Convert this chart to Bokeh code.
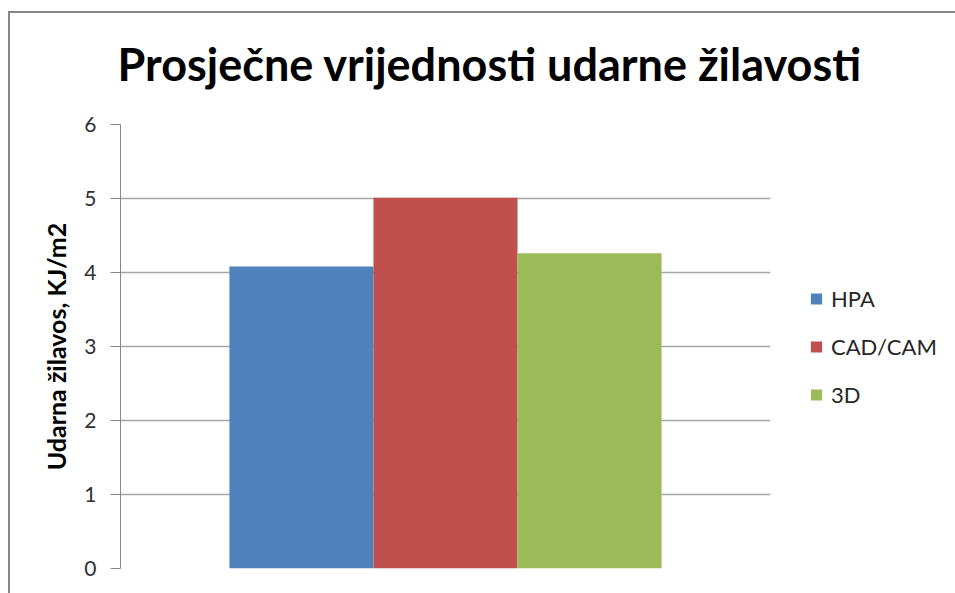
from bokeh.plotting import figure
from bokeh.models import (ColumnDataSource, FactorRange, Range1d, FixedTicker,
                          Legend, LegendItem)
from bokeh.embed import file_html
from bokeh.resources import INLINE

# Average impact toughness per fabrication method
series = ["HPA", "CAD/CAM", "3D"]
values = [4.08, 5.01, 4.26]
colors = ["#4F81BD", "#C0504D", "#9BBB59"]
y_ticks = [0, 1, 2, 3, 4, 5, 6]

src = ColumnDataSource(dict(series=series, value=values, color=colors))

FONT = "Lato"
FRAME_GRAY = "#878787"

p = figure(
    x_range=FactorRange(factors=series, range_padding=0.504),
    y_range=Range1d(0, 6),
    frame_width=650, frame_height=444,
    output_backend="svg", toolbar_location=None,
    min_border_left=120, min_border_right=185,
    min_border_top=124, min_border_bottom=25,
)
# chart-area frame: a left and a top rule drawn behind a transparent canvas
p.border_fill_color = None
p.background_fill_color = "white"
p.styles = {
    "background-color": "white",
    "background-image": f"linear-gradient({FRAME_GRAY}, {FRAME_GRAY}), "
                        f"linear-gradient({FRAME_GRAY}, {FRAME_GRAY})",
    "background-position": "8px 11px, 8px 11px",
    "background-size": "2px 100%, 100% 2px",
    "background-repeat": "no-repeat",
}

r = p.vbar(x="series", top="value", width=1.0, fill_color="color",
           line_color=None, source=src)

# title
p.title.text = "Prosječne vrijednosti udarne žilavosti"
p.title.text_font = FONT
p.title.text_font_size = "45px"
p.title.text_font_style = "bold"
p.title.text_color = "#000000"
p.title.align = "left"
p.title.offset = -3
p.title.standoff = 68

# axes
p.xaxis.visible = False
p.xgrid.visible = False
p.yaxis.ticker = FixedTicker(ticks=y_ticks)
p.yaxis.minor_tick_line_color = None
p.yaxis.major_tick_in = 0
p.yaxis.major_tick_out = 10
p.yaxis.major_tick_line_color = FRAME_GRAY
p.yaxis.axis_line_color = FRAME_GRAY
p.yaxis.major_label_text_font = FONT
p.yaxis.major_label_text_font_size = "21px"
p.yaxis.major_label_text_color = "#303030"
p.yaxis.major_label_standoff = 14
p.yaxis.axis_label = "Udarna žilavos, KJ/m2"
p.yaxis.axis_label_text_font = FONT
p.yaxis.axis_label_text_font_size = "25px"
p.yaxis.axis_label_text_font_style = "bold"
p.yaxis.axis_label_text_color = "#000000"
p.yaxis.axis_label_standoff = 10
p.ygrid.grid_line_color = "#a6a6a6"
p.ygrid.grid_line_width = 1.5
p.outline_line_color = None

# legend
items = [LegendItem(label=s, renderers=[r], index=i) for i, s in enumerate(series)]
legend = Legend(items=items, location="center_left")
legend.margin = 39
legend.padding = 0
legend.border_line_color = None
legend.background_fill_alpha = 0
legend.glyph_width = 14
legend.glyph_height = 14
legend.label_height = 20
legend.spacing = 21
legend.label_standoff = 8
legend.label_text_font = FONT
legend.label_text_font_size = "22px"
legend.label_text_color = "#262626"
p.add_layout(legend, "right")

open("out.html", "w").write(file_html(p, INLINE))
